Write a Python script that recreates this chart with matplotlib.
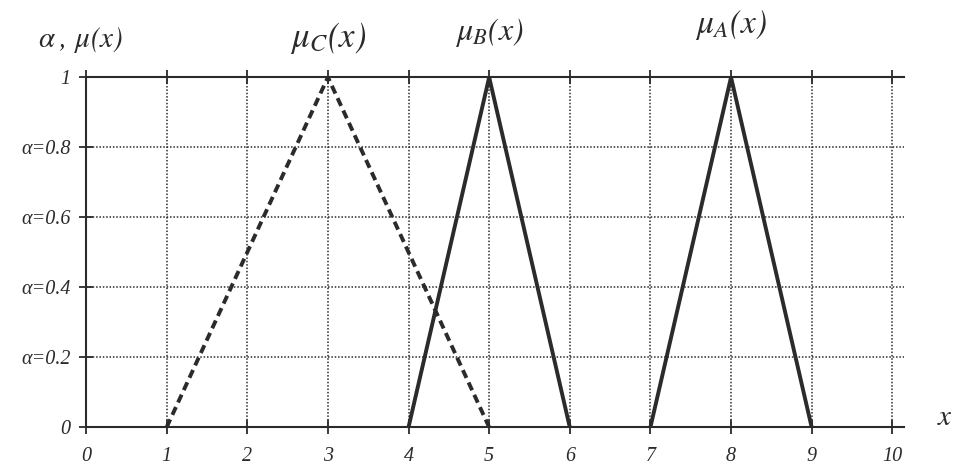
import numpy as np
import matplotlib.pyplot as plt

plt.rcParams['font.family'] = ['Liberation Serif', 'DejaVu Serif']
plt.rcParams['font.style'] = 'italic'
plt.rcParams['mathtext.fontset'] = 'stix'

# Triangular membership functions (x, mu)
c_x = [1, 3, 5]
c_mu = [0, 1, 0]
b_x = [4, 5, 6]
b_mu = [0, 1, 0]
a_x = [7, 8, 9]
a_mu = [0, 1, 0]

x_ticks = list(range(0, 11))
y_ticks = [0, 0.2, 0.4, 0.6, 0.8, 1]
y_labels = ["0", "α=0.2", "α=0.4", "α=0.6", "α=0.8", "1"]

ink = "#2b2b2b"

fig = plt.figure(figsize=(9.56, 4.71), dpi=100)
ax = fig.add_axes([0.09, 0.093, 0.856, 0.743])

ax.set_xlim(0, 10.15)
ax.set_ylim(0, 1)

# dotted grid
for xv in x_ticks[1:]:
    ax.plot([xv, xv], [0, 1], color=ink, lw=1.1, ls=(0, (1, 1.2)), zorder=1)
for yv in y_ticks[1:-1]:
    ax.plot([0, 10.15], [yv, yv], color=ink, lw=1.1, ls=(0, (1, 1.2)), zorder=1)

ax.plot(c_x, c_mu, color=ink, lw=2.8, ls=(0, (2.2, 1.3)), zorder=3)
ax.plot(b_x, b_mu, color=ink, lw=2.8, zorder=3)
ax.plot(a_x, a_mu, color=ink, lw=2.8, zorder=3)

ax.spines["right"].set_visible(False)
for side in ["left", "bottom", "top"]:
    ax.spines[side].set_color(ink)
    ax.spines[side].set_linewidth(1.5)

ax.set_xticks(x_ticks)
ax.set_xticklabels([str(v) for v in x_ticks])
ax.set_yticks(y_ticks)
ax.set_yticklabels(y_labels)
ax.tick_params(axis="both", direction="inout", length=10, width=1.3,
               colors=ink, labelsize=14.5)
ax.tick_params(axis="x", pad=9, top=True)
ax.tick_params(axis="y", pad=6)

# curve names above the peaks
ax.text(3, 1.06, r"$\mu_C(x)$", ha="center", va="bottom", fontsize=25, color=ink)
ax.text(5, 1.08, r"$\mu_B(x)$", ha="center", va="bottom", fontsize=23, color=ink)
ax.text(8, 1.10, r"$\mu_A(x)$", ha="center", va="bottom", fontsize=24, color=ink)
fig.text(0.04, 0.915, r"$\alpha\;,\,\mu(x)$", ha="left", va="center", fontsize=21, color=ink)
fig.text(0.988, 0.112, r"$x$", ha="center", va="center", fontsize=21, color=ink)

fig.savefig("out.png", dpi=100, facecolor="white")
